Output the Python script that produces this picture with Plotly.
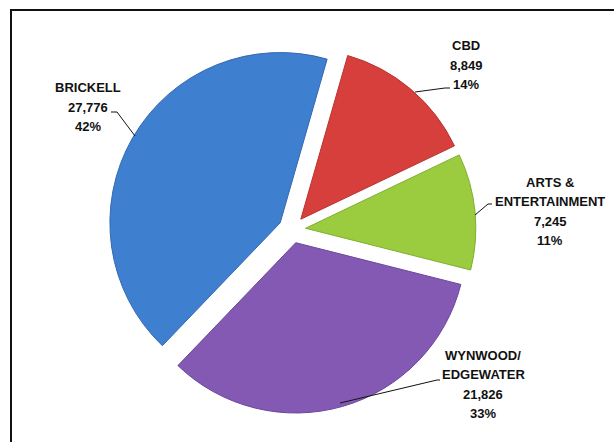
import plotly.graph_objects as go

# ---- data ----
districts = ["CBD", "ARTS & ENTERTAINMENT", "WYNWOOD/ EDGEWATER", "BRICKELL"]
label_lines = [["CBD"], ["ARTS &", "ENTERTAINMENT"], ["WYNWOOD/", "EDGEWATER"], ["BRICKELL"]]
values = [8849, 7245, 21826, 27776]
value_text = ["8,849", "7,245", "21,826", "27,776"]
pct_text = ["14%", "11%", "33%", "42%"]

colors = ["#D63F3B", "#9BCB3E", "#8459B4", "#3F7FD0"]
edge_colors = ["#B8332F", "#82AE2E", "#6B469A", "#3468B0"]

W, H = 614, 442

def px(x, y):
    return x / W, 1 - y / H

# label block anchors (pixel centre of first line) and leader paths (pixel)
label_pos = [(466, 46), (550, 182), (483, 355), (88, 88)]
leaders = [
    [(415, 92), (445, 88), (450, 88)],
    [(475, 215), (488, 204), (492, 204)],
    [(340, 403), (437, 380), (440, 380)],
    [(135, 136), (117, 112), (111, 112)],
]
line_gap = 19.5

fig = go.Figure(go.Pie(
    labels=districts,
    values=values,
    sort=False,
    direction="clockwise",
    rotation=16,
    pull=[0.08] * 4,
    marker=dict(colors=colors, line=dict(color=edge_colors, width=1)),
    textinfo="none",
    hoverinfo="label+value+percent",
    showlegend=False,
    domain=dict(x=[108.1 / W, 475.9 / W], y=[1 - 413.5 / H, 1 - 45.7 / H]),
))

annotations = []
for i in range(len(values)):
    lines = label_lines[i] + [value_text[i], pct_text[i]]
    x0, y0 = label_pos[i]
    for k, t in enumerate(lines):
        ax, ay = px(x0, y0 + k * line_gap)
        annotations.append(dict(
            x=ax, y=ay, xref="paper", yref="paper", text=t, showarrow=False,
            xanchor="center", yanchor="middle",
            font=dict(family="Liberation Sans, Arial, sans-serif", size=13, color="#111111", weight="bold"),
        ))

shapes = []
for pts in leaders:
    p = [px(*q) for q in pts]
    path = "M " + " L ".join(f"{a},{b}" for a, b in p)
    shapes.append(dict(type="path", xref="paper", yref="paper", path=path,
                       line=dict(color="#111111", width=1)))

# outer chart-area border (extends past right and bottom edges)
shapes.append(dict(type="rect", xref="paper", yref="paper",
                   x0=11 / W, x1=1.02, y0=-0.02, y1=1 - 10 / H,
                   line=dict(color="#111111", width=2)))

fig.update_layout(
    width=W, height=H,
    margin=dict(l=0, r=0, t=0, b=0),
    paper_bgcolor="white", plot_bgcolor="white",
    annotations=annotations, shapes=shapes,
)

fig.write_html("out.html")
